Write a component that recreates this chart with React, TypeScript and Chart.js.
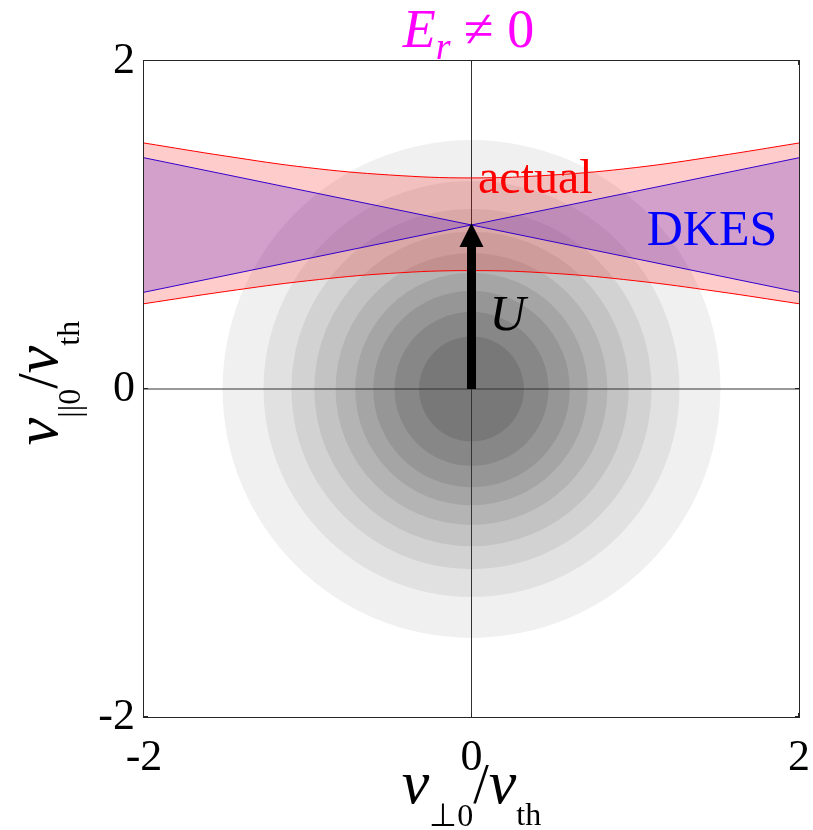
import { useEffect, useRef } from 'react';
import { Chart, registerables } from 'chart.js';

Chart.register(...registerables);

// ---- data ----
const tickValues = [-2, 0, 2];
const ringRadii = [1.52, 1.27, 1.1, 0.96, 0.83, 0.71, 0.6, 0.47, 0.32];
const bandX = [-2, -1.5, -1, -0.5, 0, 0.5, 1, 1.5, 2];
const actualUpper = [1.5, 1.42, 1.35, 1.305, 1.287, 1.305, 1.35, 1.42, 1.5];
const actualLower = [0.52, 0.595, 0.66, 0.705, 0.722, 0.705, 0.66, 0.595, 0.52];
const dkesX = [-2, 2];
const dkesA = [1.41, 0.59];
const dkesB = [0.59, 1.41];
const axisSpan = [-2, 2];
const flowU = 1.0;

// ---- styles ----
const ringGrays = ['#f0f0f0', '#e1e1e1', '#d2d2d2', '#c3c3c3', '#b4b4b4', '#a5a5a5', '#969696', '#878787', '#787878'];
const SERIF = '"Liberation Serif", "Times New Roman", serif';

type Run = { text: string; font: string; dy?: number };

function drawRuns(ctx: CanvasRenderingContext2D, runs: Run[], x: number, y: number, color: string, align: 'center' | 'left') {
  const widths = runs.map((r) => {
    ctx.font = r.font;
    return ctx.measureText(r.text).width;
  });
  const total = widths.reduce((a, b) => a + b, 0);
  let cx = align === 'center' ? x - total / 2 : x;
  ctx.fillStyle = color;
  ctx.textBaseline = 'alphabetic';
  ctx.textAlign = 'left';
  runs.forEach((r, i) => {
    ctx.font = r.font;
    ctx.fillText(r.text, cx, y + (r.dy || 0));
    cx += widths[i];
  });
}

const decorPlugin = {
  id: 'decor',
  afterDatasetsDraw(chart: any) {
    const { ctx, scales } = chart;
    const xs = scales.x;
    const ys = scales.y;
    ctx.save();
    // arrow U
    const x0 = xs.getPixelForValue(0);
    const y0 = ys.getPixelForValue(0);
    const yt = ys.getPixelForValue(flowU);
    const headLen = 22;
    const headHalf = 12;
    ctx.fillStyle = '#000';
    ctx.fillRect(x0 - 4.5, yt + headLen - 1, 9, y0 - (yt + headLen - 1));
    ctx.beginPath();
    ctx.moveTo(x0, yt - 2);
    ctx.lineTo(x0 - headHalf, yt + headLen);
    ctx.lineTo(x0 + headHalf, yt + headLen);
    ctx.closePath();
    ctx.fill();

    // labels
    ctx.textAlign = 'left';
    ctx.textBaseline = 'alphabetic';
    ctx.font = `48px ${SERIF}`;
    ctx.fillStyle = '#ff0000';
    ctx.fillText('actual', xs.getPixelForValue(0.04), ys.getPixelForValue(1.195));
    ctx.font = `50px ${SERIF}`;
    ctx.fillStyle = '#0000ff';
    ctx.fillText('DKES', xs.getPixelForValue(1.07), ys.getPixelForValue(0.88));
    ctx.font = `italic 50px ${SERIF}`;
    ctx.fillStyle = '#000';
    ctx.fillText('U', xs.getPixelForValue(0.11), ys.getPixelForValue(0.36));
    ctx.restore();
  },
  afterDraw(chart: any) {
    const { ctx, chartArea: a, scales } = chart;
    ctx.save();
    // frame
    ctx.strokeStyle = '#262626';
    ctx.lineWidth = 1;
    ctx.strokeRect(a.left - 0.5, a.top - 0.5, a.right - a.left + 1, a.bottom - a.top + 1);
    // inner tick marks
    ctx.beginPath();
    tickValues.forEach((v) => {
      const px = Math.round(scales.x.getPixelForValue(v)) - 0.5;
      ctx.moveTo(px, a.bottom);
      ctx.lineTo(px, a.bottom - 4);
      ctx.moveTo(px, a.top);
      ctx.lineTo(px, a.top + 4);
      const py = Math.round(scales.y.getPixelForValue(v)) - 0.5;
      ctx.moveTo(a.left, py);
      ctx.lineTo(a.left + 4, py);
      ctx.moveTo(a.right, py);
      ctx.lineTo(a.right - 4, py);
    });
    ctx.stroke();

    // title
    drawRuns(
      ctx,
      [
        { text: 'E', font: `italic 54px ${SERIF}` },
        { text: 'r', font: `italic 38px ${SERIF}`, dy: 12 },
        { text: ' \u2260 0', font: `54px ${SERIF}` },
      ],
      (a.left + a.right) / 2 - 3,
      47,
      '#ff00ff',
      'center'
    );

    // x title
    drawRuns(
      ctx,
      [
        { text: 'v', font: `italic 62px ${SERIF}` },
        { text: '\u22a50', font: `32px ${SERIF}`, dy: 23 },
        { text: '/', font: `56px ${SERIF}` },
        { text: 'v', font: `italic 62px ${SERIF}` },
        { text: 'th', font: `32px ${SERIF}`, dy: 22 },
      ],
      (a.left + a.right) / 2,
      803,
      '#000',
      'center'
    );

    // y title (rotated)
    ctx.translate(57, 383);
    ctx.rotate(-Math.PI / 2);
    drawRuns(
      ctx,
      [
        { text: 'v', font: `italic 62px ${SERIF}` },
        { text: '||0', font: `32px ${SERIF}`, dy: 23 },
        { text: '/', font: `56px ${SERIF}` },
        { text: 'v', font: `italic 62px ${SERIF}` },
        { text: 'th', font: `32px ${SERIF}`, dy: 22 },
      ],
      0,
      0,
      '#000',
      'center'
    );
    ctx.restore();
  },
};

export default function App() {
  const ref = useRef<HTMLCanvasElement>(null);

  useEffect(() => {
    const canvas = ref.current!;
    const radiusOf = (r: number) => (c: any) => {
      const s = c.chart.scales.x;
      return Math.abs(s.getPixelForValue(r) - s.getPixelForValue(0));
    };

    const ringDatasets = ringRadii.map((r, i) => ({
      type: 'line' as const,
      data: [{ x: 0, y: 0 }],
      showLine: false,
      pointRadius: radiusOf(r),
      pointHoverRadius: radiusOf(r),
      pointBackgroundColor: ringGrays[i],
      pointBorderColor: 'rgba(0,0,0,0)',
      pointBorderWidth: 0,
      order: 100 - i,
      clip: false as any,
    }));

    const lineBase = { pointRadius: 0, pointHoverRadius: 0, borderWidth: 1 };

    const datasets: any[] = [
      ...ringDatasets,
      {
        ...lineBase,
        data: axisSpan.map((x) => ({ x, y: 0 })),
        borderColor: '#333333',
        fill: false,
        order: 40,
      },
      {
        ...lineBase,
        data: axisSpan.map((y) => ({ x: 0, y })),
        borderColor: '#333333',
        fill: false,
        order: 40,
      },
      {
        ...lineBase,
        data: dkesX.map((x, i) => ({ x, y: dkesA[i] })),
        borderColor: '#0000ff',
        backgroundColor: 'rgba(0,0,255,0.22)',
        fill: '+1',
        order: 30,
      },
      {
        ...lineBase,
        data: dkesX.map((x, i) => ({ x, y: dkesB[i] })),
        borderColor: '#0000ff',
        fill: false,
        order: 29,
      },
      {
        ...lineBase,
        data: bandX.map((x, i) => ({ x, y: actualUpper[i] })),
        borderColor: '#ff0000',
        backgroundColor: 'rgba(255,0,0,0.2)',
        tension: 0.4,
        fill: '+1',
        order: 20,
      },
      {
        ...lineBase,
        data: bandX.map((x, i) => ({ x, y: actualLower[i] })),
        borderColor: '#ff0000',
        tension: 0.4,
        fill: false,
        order: 19,
      },
    ];

    const tickCfg = {
      font: { family: SERIF, size: 44 },
      color: '#000',
      autoSkip: false,
      maxRotation: 0,
      callback: (v: any) => String(v),
    };

    const chart = new Chart(canvas, {
      type: 'line',
      data: { datasets },
      options: {
        animation: false,
        responsive: false,
        devicePixelRatio: 1,
        events: [],
        layout: { padding: { left: 0, top: 61, right: 14, bottom: 0 } },
        plugins: {
          legend: { display: false },
          tooltip: { enabled: false },
          title: { display: false },
        },
        scales: {
          x: {
            type: 'linear',
            min: -2,
            max: 2,
            grid: { display: false, drawTicks: false },
            border: { display: false },
            ticks: { ...tickCfg, padding: 15 },
            afterBuildTicks: (s: any) => {
              s.ticks = tickValues.map((v) => ({ value: v }));
            },
            afterFit: (s: any) => {
              s.height = 113;
              s.paddingLeft = 0;
              s.paddingRight = 0;
            },
          },
          y: {
            type: 'linear',
            min: -2,
            max: 2,
            grid: { display: false, drawTicks: false },
            border: { display: false },
            ticks: { ...tickCfg, padding: 9 },
            afterBuildTicks: (s: any) => {
              s.ticks = tickValues.map((v) => ({ value: v }));
            },
            afterFit: (s: any) => {
              s.width = 144;
              s.paddingTop = 0;
              s.paddingBottom = 0;
            },
          },
        },
      } as any,
      plugins: [decorPlugin],
    });

    return () => chart.destroy();
  }, []);

  return (
    <div style={{ position: 'fixed', left: 0, top: 0, width: 813, height: 830, background: '#fff' }}>
      <canvas ref={ref} width={813} height={830} style={{ display: 'block' }} />
    </div>
  );
}
